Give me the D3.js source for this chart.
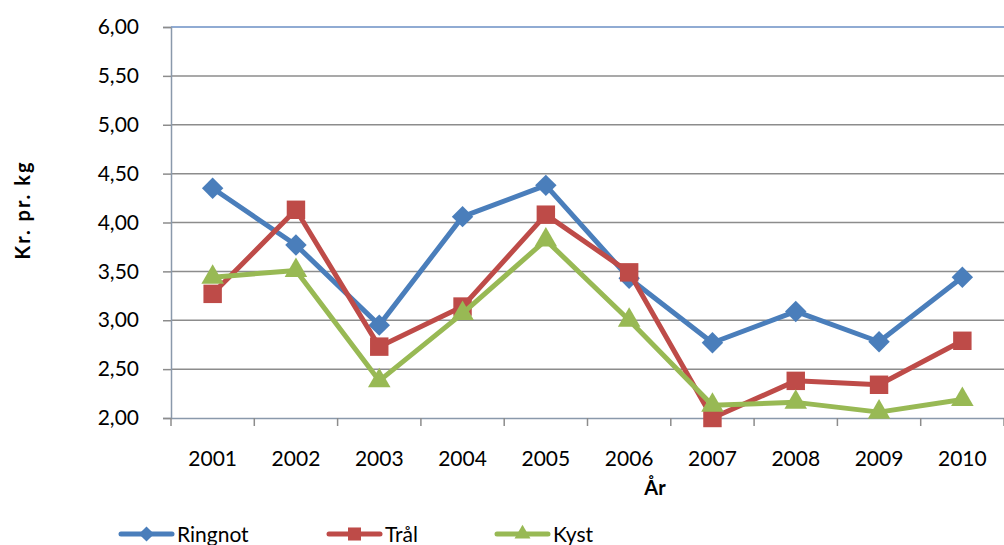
<!DOCTYPE html>
<html>
<head>
<meta charset="utf-8">
<script src="https://cdn.jsdelivr.net/npm/d3@7"></script>
<style>
  body { margin: 0; background: #fff; }
  text { font-family: Lato, "Open Sans", sans-serif; fill: #000; }
</style>
</head>
<body>
<svg id="chart" width="1004" height="545"></svg>
<script>
const years = ["2001","2002","2003","2004","2005","2006","2007","2008","2009","2010"];
const ringnot = [4.35, 3.77, 2.95, 4.06, 4.38, 3.43, 2.77, 3.09, 2.78, 3.44];
const tral = [3.27, 4.13, 2.73, 3.14, 4.08, 3.49, 2.00, 2.38, 2.34, 2.79];
const kyst = [3.44, 3.51, 2.38, 3.07, 3.82, 3.00, 2.13, 2.16, 2.06, 2.19];
const yTicks = [2, 2.5, 3, 3.5, 4, 4.5, 5, 5.5, 6];

const series = [
  {name: "Ringnot", values: ringnot, color: "#4a7ebb", symbol: d3.symbolSquare, size: 230, rot: 45},
  {name: "Trål", values: tral, color: "#be4b48", symbol: d3.symbolSquare, size: 340, rot: 0},
  {name: "Kyst", values: kyst, color: "#98b954", symbol: d3.symbolTriangle, size: 220, rot: 0}
];

const plot = {left: 171, right: 1004, top: 27, bottom: 418};
const svg = d3.select("#chart");

const x = d3.scaleBand().domain(years).range([plot.left, plot.right]);
const y = d3.scaleLinear().domain([2, 6]).range([plot.bottom, plot.top]);
const fmt = v => d3.format(".2f")(v).replace(".", ",");

// gridlines
svg.append("g").selectAll("line")
  .data(yTicks.slice(1))
  .join("line")
  .attr("x1", plot.left).attr("x2", plot.right)
  .attr("y1", d => y(d)).attr("y2", d => y(d))
  .attr("stroke", d => d === 6 ? "#6b8fc4" : "#8c8c8c")
  .attr("stroke-width", 1.5);

// y axis
const yAxis = svg.append("g")
  .attr("transform", `translate(${plot.left},0)`)
  .call(d3.axisLeft(y).tickValues(yTicks).tickFormat(fmt).tickSize(8).tickPadding(24));
yAxis.select(".domain").attr("stroke", "#8a99ab").attr("stroke-width", 1.5);
yAxis.selectAll(".tick line").attr("stroke", "#8c8c8c").attr("stroke-width", 1.5);
yAxis.selectAll("text").attr("font-size", 21).attr("font-family", "Lato, sans-serif");

// x axis
const xAxis = svg.append("g")
  .attr("transform", `translate(0,${plot.bottom})`)
  .call(d3.axisBottom(x).tickSize(0).tickPadding(33));
xAxis.select(".domain").attr("stroke", "#8a99ab").attr("stroke-width", 1.5);
xAxis.selectAll("text").attr("font-size", 21).attr("font-family", "Lato, sans-serif");
xAxis.append("g").selectAll("line")
  .data(years.map(d => x(d)).concat([plot.right]))
  .join("line")
  .attr("x1", d => d).attr("x2", d => d)
  .attr("y1", 0).attr("y2", 8)
  .attr("stroke", "#8c8c8c").attr("stroke-width", 1.5);

// axis titles
svg.append("text")
  .attr("x", 655).attr("y", 495)
  .attr("text-anchor", "middle")
  .attr("font-size", 20).attr("font-weight", "bold")
  .text("År");
svg.append("text")
  .attr("transform", "translate(30,210) rotate(-90)")
  .attr("text-anchor", "middle")
  .attr("font-size", 20).attr("font-weight", "bold")
  .attr("letter-spacing", 2)
  .text("Kr. pr. kg");

// lines and markers
const line = d3.line()
  .x((d, i) => x(years[i]) + x.bandwidth() / 2)
  .y(d => y(d));

series.forEach(s => {
  svg.append("path")
    .attr("d", line(s.values))
    .attr("fill", "none")
    .attr("stroke", s.color)
    .attr("stroke-width", 5)
    .attr("stroke-linejoin", "round");
  svg.append("g").selectAll("path")
    .data(s.values)
    .join("path")
    .attr("transform", (d, i) => `translate(${x(years[i]) + x.bandwidth() / 2},${y(d)}) rotate(${s.rot})`)
    .attr("d", d3.symbol(s.symbol, s.size))
    .attr("fill", s.color);
});

// legend
const legendX = [121, 329, 497];
series.forEach((s, i) => {
  const g = svg.append("g").attr("transform", `translate(${legendX[i]},534)`);
  g.append("line")
    .attr("x1", 0).attr("x2", 51)
    .attr("stroke", s.color).attr("stroke-width", 5)
    .attr("stroke-linecap", "round");
  g.append("path")
    .attr("transform", `translate(25.5,0) rotate(${s.rot})`)
    .attr("d", d3.symbol(s.symbol, s.size * 0.5))
    .attr("fill", s.color);
  g.append("text")
    .attr("x", 56).attr("y", 8)
    .attr("font-size", 21)
    .text(s.name);
});
</script>
</body>
</html>
